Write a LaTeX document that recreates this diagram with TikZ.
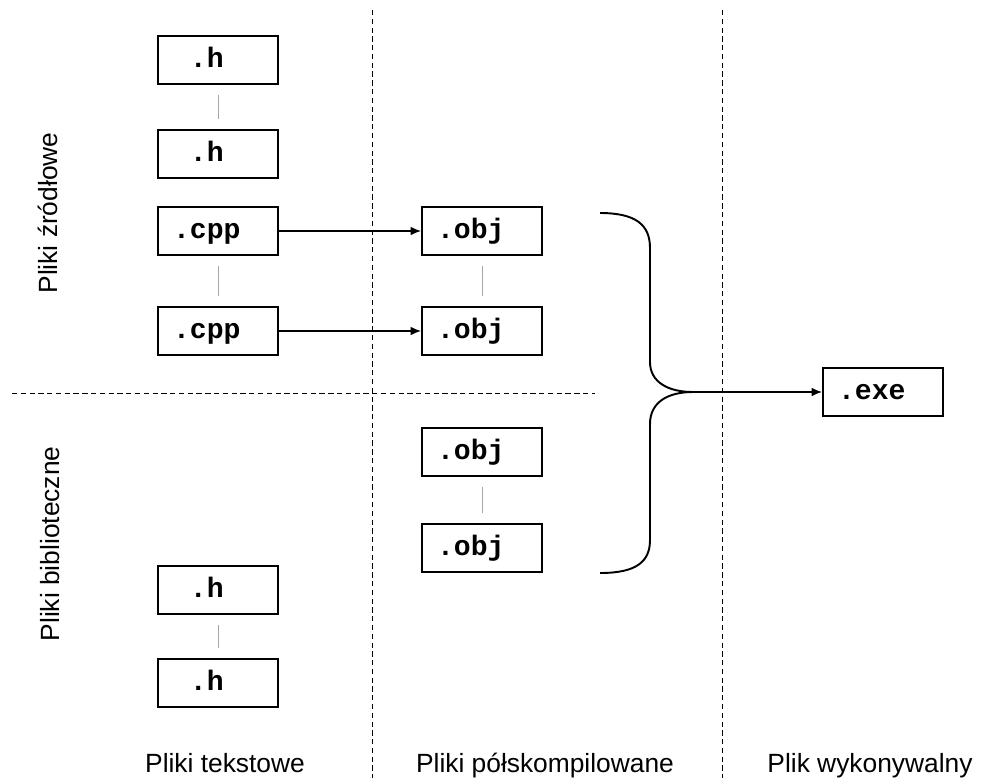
\documentclass[tikz,border=0pt]{standalone}
\usepackage{fontspec}
\setmainfont{Liberation Sans}
\setmonofont{Liberation Mono}
\usetikzlibrary{arrows.meta, positioning}

\begin{document}
\begin{tikzpicture}[x=0.02cm, y=-0.02cm,
    file/.style={draw, line width=1.1pt, minimum width=2.4cm, minimum height=0.96cm,
      inner sep=0pt, text height=12pt, text depth=3pt,
      font=\ttfamily\bfseries\fontsize{16}{19}\selectfont,
      execute at end node={\hspace{0.8em}}},
    link/.style={gray!70, line width=0.4pt, shorten <=0.2cm, shorten >=0.2cm},
    flow/.style={line width=0.8pt, -{Latex[length=6pt,width=5pt]}},
    sep/.style={line width=0.5pt, dash pattern=on 3pt off 2pt},
    lbl/.style={font=\fontsize{15}{18}\selectfont}]
  \useasboundingbox (0,0) rectangle (984,778);
  % separators
  \draw[sep] (372,10) -- (372,778);
  \draw[sep] (722,10) -- (722,778);
  \draw[sep] (12,393) -- (595,393);

  % text files
  \node[file] (h1) at (218,60) {.h};
  \node[file] (h2) at (218,154) {.h};
  \node[file] (cpp1) at (218,231) {.cpp};
  \node[file] (cpp2) at (218,331) {.cpp};
  \node[file] (hlib1) at (218,590) {.h};
  \node[file] (hlib2) at (218,683) {.h};

  % object files
  \node[file] (obj1) at (482,231) {.obj};
  \node[file] (obj2) at (482,331) {.obj};
  \node[file] (obj3) at (482,452) {.obj};
  \node[file] (obj4) at (482,548) {.obj};

  \node[file] (exe) at (883,392) {.exe};

  \draw[link] (h1) -- (h2);
  \draw[link] (cpp1) -- (cpp2);
  \draw[link] (obj1) -- (obj2);
  \draw[link] (obj3) -- (obj4);
  \draw[link] (hlib1) -- (hlib2);

  \draw[flow] (cpp1) -- (obj1);
  \draw[flow] (cpp2) -- (obj2);

  % brace
  \coordinate (tip) at (693,392);
  \draw[line width=1.1pt] (600,213) .. controls (636,213) and (650,225) .. (650,248)
    -- (650,362) .. controls (650,382) and (668,392) .. (tip)
    .. controls (668,392) and (650,402) .. (650,424)
    -- (650,540) .. controls (650,562) and (636,573) .. (600,573);
  \draw[flow] (tip) -- (tip -| exe.west);

  % labels
  \node[lbl, rotate=90] (src) at (48,213) {Pliki źródłowe};
  \node[lbl, rotate=90] (lib) at (50,544) {Pliki biblioteczne};
  \node[lbl, anchor=base] (txt) at (225,772) {Pliki tekstowe};
  \node[lbl, anchor=base] (semi) at (545,772) {Pliki półskompilowane};
  \node[lbl, anchor=base] (bin) at (870,772) {Plik wykonywalny};
\end{tikzpicture}
\end{document}
